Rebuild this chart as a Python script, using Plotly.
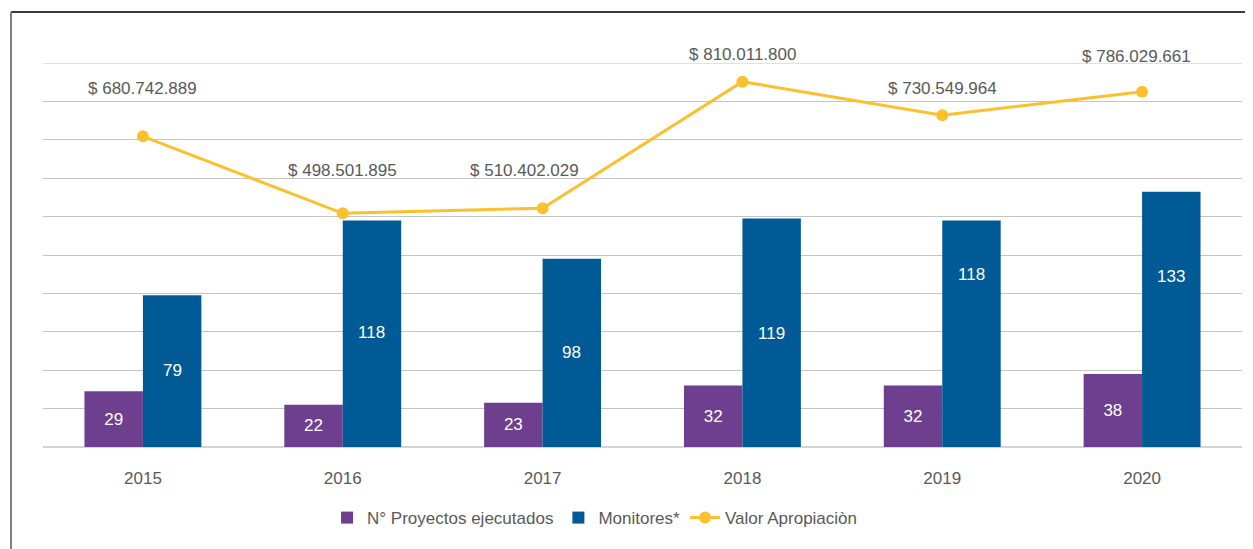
import plotly.graph_objects as go

years = ["2015", "2016", "2017", "2018", "2019", "2020"]
proyectos = [29, 22, 23, 32, 32, 38]
monitores = [79, 118, 98, 119, 118, 133]
valor = [680742889, 498501895, 510402029, 810011800, 730549964, 786029661]
valor_labels = ["$ 680.742.889", "$ 498.501.895", "$ 510.402.029",
                "$ 810.011.800", "$ 730.549.964", "$ 786.029.661"]

# label placement offsets (px) for the value annotations
label_dx = [0, 0, -18, 0, 0, -6]
label_dy = [48, 43, 38, 27, 27, 35]
# offsets (px, down from bar top) of the Monitores labels
mon_label_dy = [75, 112, 94, 115, 54, 85]

PURPLE = "#6E3F8E"
BLUE = "#005A96"
YELLOW = "#FBC02D"
GREY = "#595959"
FONT = "Liberation Sans, Arial, sans-serif"
FS = 17
BARGAP = 0.415

# page body has an 8px margin: figure is sized so that it ends at the window edge
W, H = 1245, 541
L, T, PW, PH = 35, 55, 1199, 384

fig = go.Figure()
fig.add_trace(go.Bar(
    x=years, y=proyectos, name="N° Proyectos ejecutados",
    marker=dict(color=PURPLE, line=dict(width=0)),
    text=[str(v) for v in proyectos], textposition="inside",
    insidetextanchor="middle",
    textfont=dict(color="white", size=FS, family=FONT),
))
fig.add_trace(go.Bar(
    x=years, y=monitores, name="Monitores*",
    marker=dict(color=BLUE, line=dict(width=0)),
))
fig.add_trace(go.Scatter(
    x=years, y=valor, name="Valor Apropiaciòn", yaxis="y2",
    mode="lines+markers",
    line=dict(color=YELLOW, width=3),
    marker=dict(color=YELLOW, size=12),
))

# x given as category index (numeric strings would be read as indices)
for i, (v, lab, dx, dy) in enumerate(zip(valor, valor_labels, label_dx, label_dy)):
    fig.add_annotation(x=i, y=v, xref="x", yref="y2", text=lab, showarrow=False,
                       xshift=dx, yshift=dy,
                       font=dict(size=FS, color=GREY, family=FONT))

bar_half = (1 - BARGAP) / 4  # half of one bar width in category units
for i, (v, dy) in enumerate(zip(monitores, mon_label_dy)):
    fig.add_annotation(x=i + bar_half, y=v, xref="x", yref="y", text=str(v),
                       showarrow=False, yshift=-dy,
                       font=dict(size=FS, color="white", family=FONT))

# top gridline (range edge gridline is clipped by plotly)
fig.add_shape(type="line", xref="paper", yref="y", x0=0, x1=1, y0=200, y1=200,
              line=dict(color="#C4C4C4", width=1), layer="below")

# frame lines (top and left)
fx = (3 - L) / PW
fy = (T + PH - 4) / PH
fig.add_shape(type="line", xref="paper", yref="paper",
              x0=fx, x1=1.05, y0=fy, y1=fy,
              line=dict(color="#3A3A3A", width=2))
fig.add_shape(type="line", xref="paper", yref="paper",
              x0=fx, x1=fx, y0=fy, y1=-0.4,
              line=dict(color="#7F7F7F", width=2))

fig.update_layout(
    width=W, height=H,
    margin=dict(l=L, r=W - L - PW, t=T, b=H - T - PH),
    paper_bgcolor="white", plot_bgcolor="white",
    barmode="group", bargap=BARGAP, bargroupgap=0,
    font=dict(family=FONT, size=FS, color=GREY),
    showlegend=True,
    legend=dict(orientation="h", x=0.46, xanchor="center",
                y=-0.185, yanchor="middle",
                font=dict(size=FS, color=GREY, family=FONT),
                itemwidth=30, traceorder="normal"),
    xaxis=dict(type="category", range=[-0.5, 5.5], showgrid=False, showline=False,
               ticks="outside", ticklen=16, tickcolor="rgba(0,0,0,0)",
               tickfont=dict(size=FS, color=GREY, family=FONT)),
    yaxis=dict(range=[0, 200], tickvals=[20, 40, 60, 80, 100, 120, 140, 160, 180],
               showgrid=True, gridcolor="#C4C4C4",
               gridwidth=1, zeroline=True, zerolinecolor="#D4D4D4",
               zerolinewidth=2, showticklabels=False, showline=False),
    yaxis2=dict(range=[-54.7e6, 854.2e6], overlaying="y", side="right",
                showgrid=False, zeroline=False, showticklabels=False,
                showline=False),
)

fig.write_html("out.html")
